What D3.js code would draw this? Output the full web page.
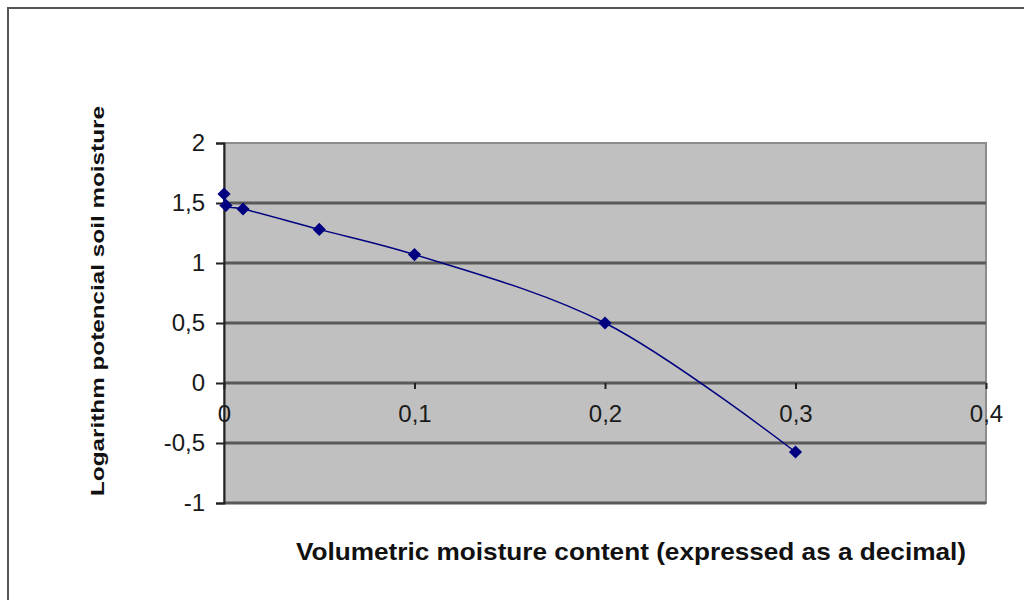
<!DOCTYPE html>
<html>
<head>
<meta charset="utf-8">
<script src="https://cdn.jsdelivr.net/npm/d3@7"></script>
<style>
body { margin: 0; background: #fff; }
svg { display: block; }
</style>
</head>
<body>
<div id="chart_div"></div>
<script>
// data
var moisture = [0, 0.001, 0.01, 0.05, 0.1, 0.2, 0.3];
var log_potential = [1.575, 1.48, 1.45, 1.28, 1.07, 0.5, -0.575];
var x_ticks = [0, 0.1, 0.2, 0.3, 0.4];
var y_ticks = [-1, -0.5, 0, 0.5, 1, 1.5, 2];
var x_title = "Volumetric moisture content (expressed as a decimal)";
var y_title = "Logarithm potencial soil moisture";

var width = 1024, height = 600;
var fmt = function(d) { return String(d).replace(".", ","); };

var svg = d3.select("#chart_div").append("svg")
    .attr("width", width)
    .attr("height", height);

// outer chart border (only left/top visible)
svg.append("rect")
    .attr("x", 8).attr("y", 8)
    .attr("width", 1100).attr("height", 700)
    .attr("fill", "#fff")
    .attr("stroke", "#555")
    .attr("stroke-width", 2);

var x = d3.scaleLinear().domain([0, 0.4]).range([224, 986]);
var y = d3.scaleLinear().domain([-1, 2]).range([503, 143]);

// plot area
svg.append("rect")
    .attr("x", x(0)).attr("y", y(2))
    .attr("width", x(0.4) - x(0)).attr("height", y(-1) - y(2))
    .attr("fill", "#c0c0c0")
    .attr("stroke", "#8c8c8c")
    .attr("stroke-width", 2);

// gridlines
svg.append("g")
    .selectAll("line")
    .data(y_ticks.filter(function(d) { return d < 2; }))
    .enter()
    .append("line")
    .attr("x1", x(0)).attr("x2", x(0.4))
    .attr("y1", function(d) { return y(d); })
    .attr("y2", function(d) { return y(d); })
    .attr("stroke", "#595959")
    .attr("stroke-width", 3);

// y axis
var y_axis = svg.append("g")
    .attr("transform", "translate(" + x(0) + ",0)")
    .call(d3.axisLeft(y).tickValues(y_ticks).tickSize(8).tickPadding(11).tickFormat(fmt));
y_axis.select(".domain").attr("stroke", "#222").attr("stroke-width", 2);
y_axis.selectAll(".tick line").attr("stroke", "#222").attr("stroke-width", 2);
y_axis.selectAll("text")
    .attr("font-family", "Liberation Sans, Arial, sans-serif")
    .attr("font-size", 24)
    .attr("fill", "#1a1a1a");

// x axis at y = 0
var x_axis = svg.append("g")
    .attr("transform", "translate(0," + y(0) + ")")
    .call(d3.axisBottom(x).tickValues(x_ticks).tickSize(6).tickPadding(16).tickFormat(fmt));
x_axis.select(".domain").remove();
x_axis.selectAll(".tick line").attr("stroke", "#222").attr("stroke-width", 2);
x_axis.selectAll("text")
    .attr("font-family", "Liberation Sans, Arial, sans-serif")
    .attr("font-size", 24)
    .attr("fill", "#1a1a1a");

// series
var points = moisture.map(function(d, i) { return [d, log_potential[i]]; });
var line = d3.line()
    .x(function(d) { return x(d[0]); })
    .y(function(d) { return y(d[1]); })
    .curve(d3.curveCatmullRom.alpha(0.5));

svg.append("path")
    .datum(points)
    .attr("d", line)
    .attr("fill", "none")
    .attr("stroke", "#000080")
    .attr("stroke-width", 1.5);

svg.append("g")
    .selectAll("path")
    .data(points)
    .enter()
    .append("path")
    .attr("d", d3.symbol().type(d3.symbolDiamond2).size(110))
    .attr("transform", function(d) { return "translate(" + x(d[0]) + "," + y(d[1]) + ")"; })
    .attr("fill", "#000080");

// titles
svg.append("text")
    .attr("x", 631).attr("y", 560)
    .attr("text-anchor", "middle")
    .attr("font-family", "Liberation Sans Narrow, Arial Narrow, Liberation Sans, sans-serif")
    .attr("font-weight", "bold")
    .attr("font-size", 24)
    .attr("textLength", 670)
    .attr("lengthAdjust", "spacingAndGlyphs")
    .attr("fill", "#111")
    .text(x_title);

svg.append("text")
    .attr("transform", "translate(104,301) rotate(-90)")
    .attr("text-anchor", "middle")
    .attr("font-family", "Liberation Sans, Arial, sans-serif")
    .attr("font-weight", "bold")
    .attr("font-size", 19)
    .attr("textLength", 390)
    .attr("lengthAdjust", "spacingAndGlyphs")
    .attr("fill", "#111")
    .text(y_title);
</script>
</body>
</html>
